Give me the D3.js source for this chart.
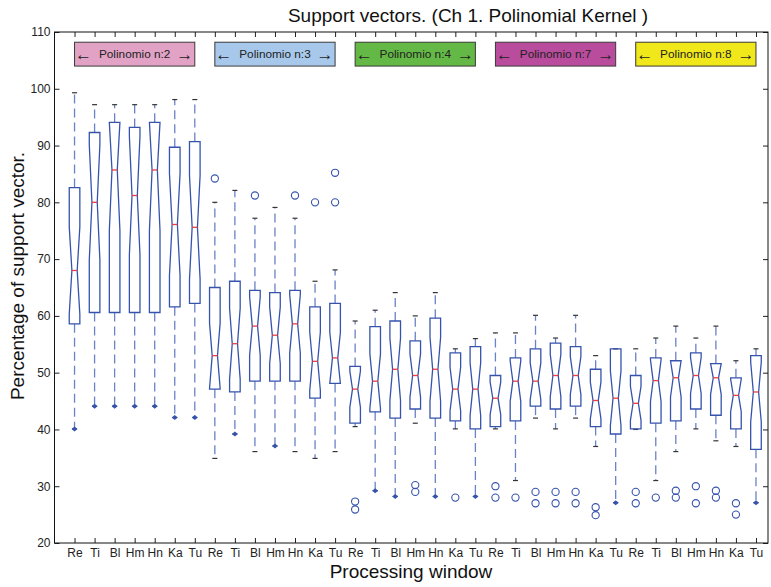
<!DOCTYPE html>
<html><head><meta charset="utf-8">
<script src="https://cdn.jsdelivr.net/npm/d3@7"></script>
<style>body{margin:0;background:#fff}svg{display:block}text{font-family:"Liberation Sans",Arial,sans-serif}</style>
</head><body>
<script>
// ---- data ----
const windows = ["Re","Ti","Bl","Hm","Hn","Ka","Tu"];
const groups = ["Polinomio n:2","Polinomio n:3","Polinomio n:4","Polinomio n:7","Polinomio n:8"];
const groupColors = ["#e2a2c6","#a7c8eb","#64b946","#b94c9c","#f0e81a"];
const yTicks = [20,30,40,50,60,70,80,90,100,110];
const whiskerHi = [99.3,97.2,97.2,97.2,97.2,98.1,98.1, 80.0,82.1,77.2,79.1,77.2,66.1,68.1, 59.1,61.0,64.1,60.0,64.1,54.2,56.0, 57.0,57.0,60.1,56.1,60.1,53.0,54.2, 54.2,56.1,58.2,56.1,58.2,52.1,54.2];
const q3 = [82.6,92.3,94.1,93.2,94.1,89.7,90.7, 65.0,66.1,64.5,64.1,64.5,61.6,62.2, 51.1,58.1,59.1,55.6,59.6,53.5,54.6, 49.5,52.6,54.2,55.2,54.6,50.6,54.2, 49.5,52.6,52.1,53.5,51.6,49.1,53.0];
const median = [68.0,80.0,85.7,81.2,85.7,76.1,75.6, 53.0,55.1,58.2,56.6,58.6,52.0,52.6, 47.1,48.5,50.6,49.5,50.6,47.1,47.1, 45.5,48.5,48.5,49.5,49.5,45.1,45.5, 44.6,48.6,49.1,49.5,49.1,46.0,46.6];
const q1 = [58.6,60.6,60.6,60.6,60.6,61.6,62.2, 47.1,46.6,48.5,48.5,48.5,45.5,48.1, 41.1,43.1,42.0,43.6,42.0,41.5,40.1, 40.5,41.5,44.1,43.6,44.1,40.5,39.2, 40.1,41.1,41.5,43.6,42.5,40.1,36.5];
const whiskerLo = [40.1,44.1,44.1,44.1,44.1,42.1,42.1, 34.9,39.2,36.1,37.1,36.1,34.9,36.1, 40.5,29.2,28.2,41.1,28.2,40.1,28.2, 40.1,31.0,42.0,40.1,42.0,37.0,27.1, 40.0,31.0,36.1,40.1,38.0,37.0,27.1];
const lowMarker = [1,1,1,1,1,1,1, 0,1,0,1,0,0,0, 0,1,1,0,1,0,1, 0,0,0,0,0,0,1, 0,0,0,0,0,0,1];
const outliers = [[],[],[],[],[],[],[],
  [84.2],[],[81.2],[],[81.2],[80.0],[85.2,80.0],
  [27.3,25.9],[],[],[30.2,29.0],[],[28.0],[],
  [30.0,28.0],[28.0],[29.0,27.0],[29.0,27.0],[29.0,27.0],[26.3,24.9],[],
  [29.0,27.0],[28.0],[29.2,28.0],[30.0,27.0],[29.2,28.0],[27.0,25.0],[]];

const W = 771, H = 587;
const svg = d3.select("body").append("svg").attr("width", W).attr("height", H);
const xs = d3.scaleLinear().domain([0, 35.6]).range([54.5, 768]);
const ys = d3.scaleLinear().domain([20, 110]).range([543, 32]);
const n = median.length;
const idx = d3.range(1, n + 1);

// axes
const font = '"Liberation Sans",Arial,sans-serif';
const gx = svg.append("g").attr("transform", `translate(0,${ys(20)})`)
  .call(d3.axisBottom(xs).tickValues(idx).tickFormat(d => windows[(d - 1) % 7]).tickSizeInner(-5).tickSizeOuter(0).tickPadding(5));
const gt = svg.append("g").attr("transform", `translate(0,${ys(110)})`)
  .call(d3.axisTop(xs).tickValues(idx).tickFormat("").tickSizeInner(-5).tickSizeOuter(0));
const gy = svg.append("g").attr("transform", `translate(${xs(0)},0)`)
  .call(d3.axisLeft(ys).tickValues(yTicks).tickSizeInner(-5).tickSizeOuter(0).tickPadding(4));
const gr = svg.append("g").attr("transform", `translate(${xs(35.6)},0)`)
  .call(d3.axisRight(ys).tickValues(yTicks).tickFormat("").tickSizeInner(-5).tickSizeOuter(0));
[gx, gt, gy, gr].forEach(g => {
  g.select(".domain").remove();
  g.selectAll("line").attr("stroke", "#222");
  g.selectAll("text").attr("font-family", font).attr("font-size", 12).attr("fill", "#222");
});
svg.append("rect").attr("x", xs(0)).attr("y", ys(110)).attr("width", xs(35.6) - xs(0)).attr("height", ys(20) - ys(110))
  .attr("fill", "none").attr("stroke", "#111").attr("stroke-width", 1);

// boxes
const hw = 5.3; // half box width
const boxColor = "#3553ad", whColor = "#6a82c6";
const g = svg.append("g");
idx.forEach((k, i) => {
  const cx = xs(k);
  const iqr = q3[i] - q1[i];
  const nh = Math.min(q3[i], median[i] + 0.32 * iqr);
  const nl = Math.max(q1[i], median[i] - 0.32 * iqr);
  g.append("line").attr("x1", cx).attr("x2", cx).attr("y1", ys(q3[i])).attr("y2", ys(whiskerHi[i]))
    .attr("stroke", whColor).attr("stroke-width", 1.3).attr("stroke-dasharray", "9,5");
  g.append("line").attr("x1", cx).attr("x2", cx).attr("y1", ys(q1[i])).attr("y2", ys(whiskerLo[i]))
    .attr("stroke", whColor).attr("stroke-width", 1.3).attr("stroke-dasharray", "9,5");
  [whiskerHi[i], whiskerLo[i]].forEach(v => {
    g.append("line").attr("x1", cx - 2.5).attr("x2", cx + 2.5).attr("y1", ys(v)).attr("y2", ys(v))
      .attr("stroke", "#333").attr("stroke-width", 1.2);
  });
  if (lowMarker[i]) {
    const yy = ys(whiskerLo[i]);
    g.append("path").attr("d", `M${cx - 3},${yy} L${cx},${yy - 2.5} L${cx + 3},${yy} L${cx},${yy + 2.5} Z`)
      .attr("fill", boxColor);
  }
  const pts = [
    [cx - hw, ys(q3[i])], [cx + hw, ys(q3[i])], [cx + hw, ys(nh)], [cx + hw / 2, ys(median[i])],
    [cx + hw, ys(nl)], [cx + hw, ys(q1[i])], [cx - hw, ys(q1[i])], [cx - hw, ys(nl)],
    [cx - hw / 2, ys(median[i])], [cx - hw, ys(nh)]
  ];
  g.append("path").attr("d", d3.line()(pts) + "Z").attr("fill", "none").attr("stroke", boxColor).attr("stroke-width", 1.3);
  g.append("line").attr("x1", cx - hw / 2).attr("x2", cx + hw / 2).attr("y1", ys(median[i])).attr("y2", ys(median[i]))
    .attr("stroke", "#f03c3c").attr("stroke-width", 1.3);
  outliers[i].forEach(v => {
    g.append("circle").attr("cx", cx).attr("cy", ys(v)).attr("r", 3.6).attr("fill", "none")
      .attr("stroke", boxColor).attr("stroke-width", 1.1);
  });
});

// group legend boxes
groups.forEach((name, gi) => {
  const x1 = xs(7 * gi + 1), x2 = xs(7 * gi + 7), y1 = ys(108.2), y2 = ys(104.0);
  svg.append("rect").attr("x", x1).attr("y", y1).attr("width", x2 - x1).attr("height", y2 - y1)
    .attr("fill", groupColors[gi]).attr("stroke", "#3a3a3a").attr("stroke-width", 1);
  const ym = (y1 + y2) / 2 + 4;
  svg.append("text").attr("x", (x1 + x2) / 2).attr("y", ym).attr("text-anchor", "middle")
    .attr("font-size", 11.8).attr("fill", "#222").text(name);
  svg.append("text").attr("x", x1 + 0.5).attr("y", ym + 1.5).attr("text-anchor", "start")
    .attr("font-family", '"DejaVu Sans",sans-serif').attr("font-size", 17).attr("fill", "#222").text("\u2190");
  svg.append("text").attr("x", x2 - 1.5).attr("y", ym + 1.5).attr("text-anchor", "end")
    .attr("font-family", '"DejaVu Sans",sans-serif').attr("font-size", 17).attr("fill", "#222").text("\u2192");
});

// titles
svg.append("text").attr("x", 468).attr("y", 22).attr("text-anchor", "middle").attr("font-size", 19).attr("fill", "#111")
  .text("Support vectors. (Ch 1. Polinomial Kernel )");
svg.append("text").attr("x", 411).attr("y", 578).attr("text-anchor", "middle").attr("font-size", 19).attr("fill", "#111")
  .text("Processing window");
svg.append("text").attr("transform", "translate(24,276) rotate(-90)").attr("text-anchor", "middle").attr("font-size", 19).attr("fill", "#111")
  .text("Percentage of support vector.");
</script>
</body></html>
